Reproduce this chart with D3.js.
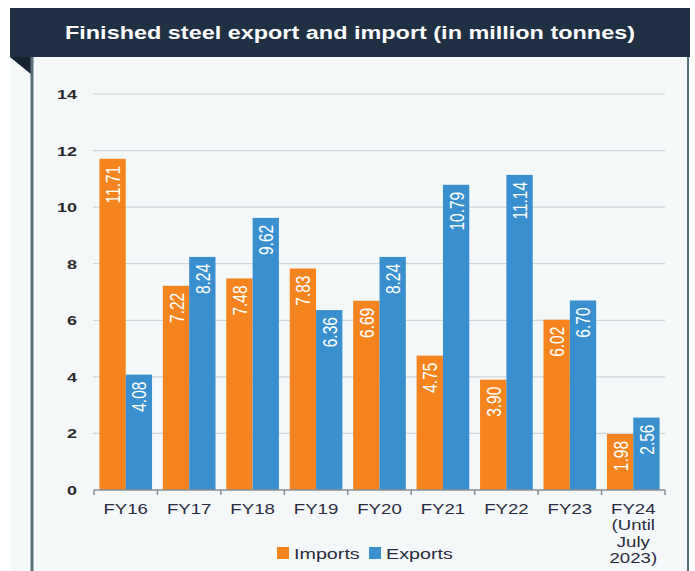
<!DOCTYPE html>
<html><head><meta charset="utf-8">
<script src="https://cdn.jsdelivr.net/npm/d3@7"></script>
<style>body{margin:0;background:#fff;font-family:"Liberation Sans",Arial,sans-serif;}</style>
</head><body><svg id="c" width="695" height="571"></svg>
<script>
const categories = ["FY16","FY17","FY18","FY19","FY20","FY21","FY22","FY23","FY24\n(Until\nJuly\n2023)"];
const imports = [11.71,7.22,7.48,7.83,6.69,4.75,3.90,6.02,1.98];
const exports_ = [4.08,8.24,9.62,6.36,8.24,10.79,11.14,6.70,2.56];
const yTicks = [0,2,4,6,8,10,12,14];
const seriesNames = ["Imports","Exports"];
const colors = ["#f5841f","#3a8fce"];
const SX = 1.33; // horizontal stretch of the reference text

const svg = d3.select("#c");
svg.append("rect").attr("x",10).attr("y",8).attr("width",680).attr("height",563).attr("fill","#f4f8f9");
svg.append("rect").attr("x",10).attr("y",8).attr("width",680).attr("height",49).attr("fill","#1f3044");
svg.append("path").attr("d","M10,57 L32,57 L32,75 Z").attr("fill","#152230");
svg.append("line").attr("x1",32).attr("x2",32).attr("y1",57).attr("y2",571).attr("stroke","#5c707a").attr("stroke-width",3);
svg.append("line").attr("x1",688).attr("x2",688).attr("y1",57).attr("y2",571).attr("stroke","#5c707a").attr("stroke-width",2);
svg.append("text").attr("x",65).attr("y",39).attr("fill","#fff")
  .attr("font-size",18).attr("font-weight","bold").attr("textLength",570).attr("lengthAdjust","spacingAndGlyphs")
  .text("Finished steel export and import (in million tonnes)");

const x0 = d3.scaleBand().domain(categories).range([94,665]).paddingInner(0.17).paddingOuter(0.085);
const x1 = d3.scaleBand().domain(seriesNames).range([0,x0.bandwidth()]);
const y = d3.scaleLinear().domain([0,14]).range([490,94]);

svg.append("g").selectAll("line").data(yTicks.filter(d=>d>0)).join("line")
  .attr("x1",93).attr("x2",665).attr("y1",d=>y(d)).attr("y2",d=>y(d)).attr("stroke","#d3d6d8").attr("stroke-width",1.2);
svg.append("g").selectAll("text").data(yTicks).join("text")
  .attr("transform",d=>`translate(77,${y(d)+5}) scale(${SX},1)`)
  .attr("text-anchor","end").attr("font-size",13.5).attr("font-weight","bold").attr("fill","#2b2b2b").text(d=>d);

const groups = svg.append("g").selectAll("g").data(categories).join("g").attr("transform",d=>`translate(${x0(d)},0)`);
groups.each(function(c,i){
  const vals = [imports[i],exports_[i]];
  const g = d3.select(this);
  vals.forEach((v,j)=>{
    const bx = x1(seriesNames[j]);
    g.append("rect").attr("x",bx).attr("y",y(v)).attr("width",x1.bandwidth()).attr("height",y(0)-y(v)).attr("fill",colors[j]);
    g.append("text").attr("transform",`translate(${bx+x1.bandwidth()/2+7.5},${y(v)+7}) rotate(-90) scale(1,${SX})`)
      .attr("text-anchor","end").attr("font-size",15.5).attr("fill","#fff").text(v.toFixed(2));
  });
});

const xa = svg.append("g");
xa.append("line").attr("x1",94).attr("x2",665).attr("y1",490).attr("y2",490).attr("stroke","#8a8f93").attr("stroke-width",1.5);
const bounds = d3.range(categories.length+1).map(i=>94 + i*(571/categories.length));
xa.selectAll("line.t").data(bounds).join("line").attr("class","t").attr("x1",d=>d).attr("x2",d=>d).attr("y1",490).attr("y2",495).attr("stroke","#8a8f93").attr("stroke-width",1.5);
xa.selectAll("text").data(categories).join("text")
  .attr("transform",d=>`translate(${x0(d)+x0.bandwidth()/2},514) scale(${SX},1)`)
  .attr("text-anchor","middle").attr("font-size",14).attr("fill","#2b2b3f")
  .each(function(d){
    const t = d3.select(this);
    d.split("\n").forEach((ln,k)=>t.append("tspan").attr("x",0).attr("dy",k?16.5:0).text(ln));
  });

const leg = svg.append("g");
[[277,"Imports"],[369,"Exports"]].forEach(([lx,name],j)=>{
  leg.append("rect").attr("x",lx).attr("y",547).attr("width",12).attr("height",12).attr("fill",colors[j]);
  leg.append("text").attr("transform",`translate(${lx+17},559) scale(1.36,1)`).attr("font-size",14.5).attr("fill","#2b2b3f").text(name);
});
</script></body></html>
